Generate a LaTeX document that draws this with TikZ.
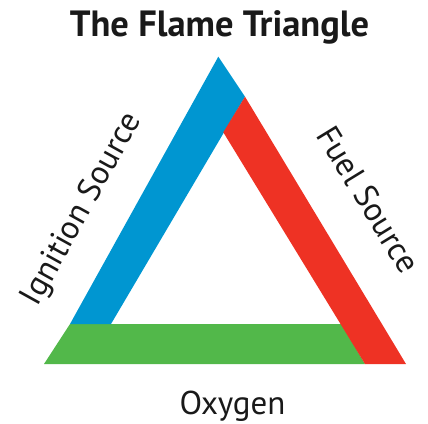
\documentclass[tikz,border=0pt]{standalone}
\usepackage{fontspec}
\setmainfont{PT Sans}
\usetikzlibrary{positioning}
\definecolor{ftBlue}{HTML}{0096D1}
\definecolor{ftRed}{HTML}{EE3224}
\definecolor{ftGreen}{HTML}{52B84A}
\tikzset{
  band/.style={draw=none},
  sidelabel/.style={font=\fontsize{33}{33}\selectfont, inner sep=0pt, text=black!90},
  titlelabel/.style={font=\fontsize{36.5}{36.5}\selectfont\bfseries, inner sep=0pt, text=black!90}
}
\begin{document}
\begin{tikzpicture}[x=1pt, y=-1pt]
  \useasboundingbox (0,0) rectangle (428,423);
  % corners of the bands
  \coordinate (apex) at (218.3,56.7);
  \coordinate (outL) at (70,324);
  \coordinate (outBL) at (44,364);
  \coordinate (outBR) at (406,364);
  \coordinate (redTop) at (245,96.7);
  \coordinate (inApex) at (223.3,132.3);
  \coordinate (inL) at (111,324);
  \coordinate (inR) at (341.7,324);
  \coordinate (redBL) at (365,364);
  \fill[band, ftGreen] (outBL) -- (redBL) -- (inR) -- (outL) -- cycle;
  \fill[band, ftBlue] (outL) -- (apex) -- (redTop) -- (inL) -- cycle;
  \fill[band, ftRed] (redTop) -- (outBR) -- (redBL) -- (inApex) -- cycle;
  % labels
  \node[titlelabel, anchor=base] (title) at (219.5,36) {The Flame Triangle};
  \node[sidelabel, anchor=base] (oxygen) at (232.5,414) {Oxygen};
  \node[sidelabel, rotate=61] (ignition) at (82.5,209.5) {Ignition Source};
  \node[sidelabel, rotate=-58.5] (fuel) at (368.5,199.5) {Fuel Source};
\end{tikzpicture}
\end{document}
